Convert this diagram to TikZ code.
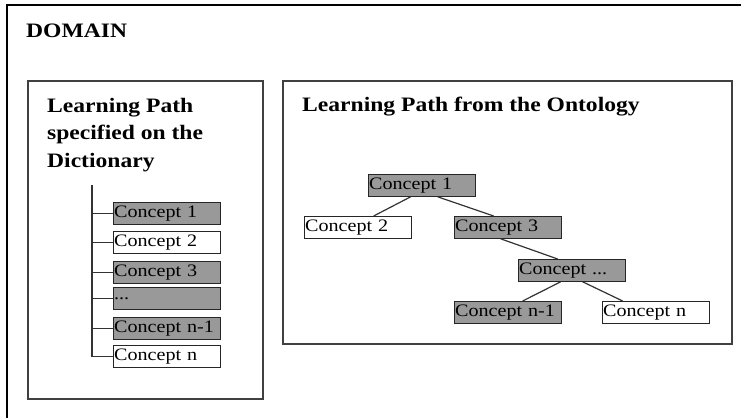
\documentclass[tikz,border=0pt]{standalone}
\usepackage{fontspec}
\setmainfont{Liberation Serif}[FakeStretch=1.15]
\definecolor{hotgray}{RGB}{153,153,153}
\begin{document}
\begin{tikzpicture}[x=1pt,y=-1pt,
        frame/.style={draw=black!75,line width=1.6pt},
        concept/.style={draw=black!85,line width=1.3pt,minimum height=21.5pt,text width=106pt,inner xsep=0.5pt,inner ysep=1.5pt,align=left,anchor=north west,font=\fontsize{17.5}{20}\selectfont},
        hot/.style={concept,fill=hotgray},
        cold/.style={concept,fill=white},
        link/.style={draw=black!80,line width=1.2pt},
        title/.style={inner sep=0pt,anchor=base west,font=\fontsize{20.5}{27.5}\selectfont\bfseries}]
    \useasboundingbox (0,0) rectangle (741,418);
    \draw[line width=1.6pt] (741,5) -- (7,5) -- (7,418);
    \node[title] (domain) at (26,37) {DOMAIN};
    \draw[frame] (28,81) rectangle (263,399);
    \draw[frame] (283,81) rectangle (732,344);
    \node[title,align=left,anchor=north west] (dict) at (47,98) {Learning Path\\specified on the\\Dictionary};
    \node[title] (onto) at (302,111) {Learning Path from the Ontology};
    \node[hot] (l1) at (113,202) {Concept 1};
    \node[cold] (l2) at (113,231) {Concept 2};
    \node[hot] (l3) at (113,261) {Concept 3};
    \node[hot] (l4) at (113,287) {...};
    \node[hot] (l5) at (113,317) {Concept n-1};
    \node[cold] (l6) at (113,345) {Concept n};
    \coordinate (ltop) at (92,185);
    \draw[link] (ltop) |- (l6.west);
    \foreach \i in {1,...,5}
    {
        \draw[link] (ltop |- l\i.west) -- (l\i.west);
    }
    \node[hot] (c1) at (368,174) {Concept 1};
    \node[cold] (c2) at (304,216) {Concept 2};
    \node[hot] (c3) at (454,216) {Concept 3};
    \node[hot] (cdots) at (518,259) {Concept ...};
    \node[hot] (cnm) at (454,301) {Concept n-1};
    \node[cold] (cn) at (602,301) {Concept n};
    \draw[link] ([xshift=-11.5pt]c1.south) -- ([xshift=15.5pt]c2.north);
    \draw[link] ([xshift=15.5pt]c1.south) -- ([xshift=-14.5pt]c3.north);
    \draw[link] ([xshift=-7.5pt]c3.south) -- ([xshift=-14.5pt]cdots.north);
    \draw[link] ([xshift=-11.5pt]cdots.south) -- ([xshift=14.5pt]cnm.north);
    \draw[link] ([xshift=10.5pt]cdots.south) -- ([xshift=-33.5pt]cn.north);
\end{tikzpicture}
\end{document}
